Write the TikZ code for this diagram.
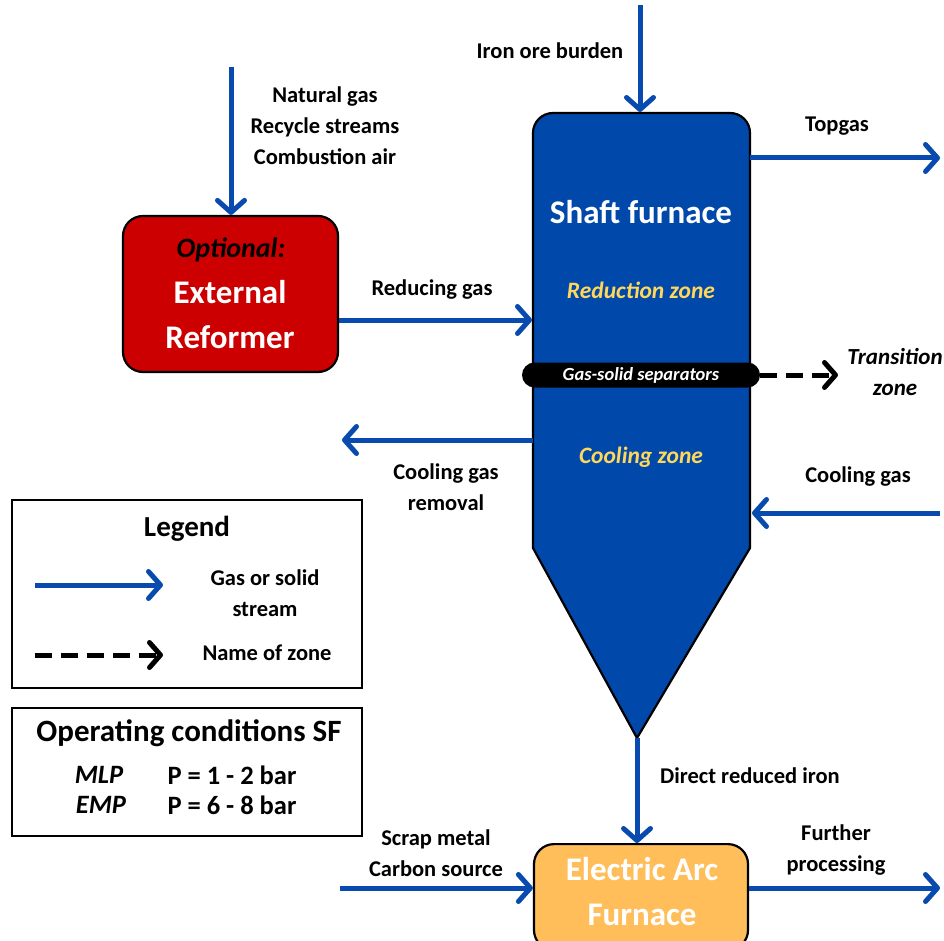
\documentclass[tikz,border=0pt]{standalone}
\usepackage{fontspec}
\setmainfont{Carlito}
\usetikzlibrary{arrows.meta}
\definecolor{sfblue}{RGB}{0,72,170}
\definecolor{flowblue}{RGB}{8,74,174}
\definecolor{refred}{RGB}{204,0,0}
\definecolor{eaforange}{RGB}{255,190,90}
\definecolor{zoneyellow}{RGB}{255,215,90}
\begin{document}
\begin{tikzpicture}[x=1pt,y=-1pt,
  flow/.style={draw=flowblue, line width=5pt, -{Straight Barb[length=12pt,width=27pt,line cap=round,line join=round]}},
  zonearrow/.style={draw=black, line width=5pt, dash pattern=on 17pt off 9pt, -{Straight Barb[length=11pt,width=25pt,line cap=round,line join=round]}},
  lbl/.style={font=\bfseries\fontsize{22.5}{31}\selectfont, align=center, inner sep=0pt},
  ilbl/.style={font=\bfseries\itshape\fontsize{23}{31}\selectfont, align=center, inner sep=0pt},
  zonetxt/.style={font=\bfseries\itshape\fontsize{23.5}{26}\selectfont, text=zoneyellow, inner sep=0pt},
  bigwhite/.style={font=\bfseries\fontsize{33}{45}\selectfont, text=white, align=center, inner sep=0pt},
  unitbox/.style={draw=black, line width=2.2pt, rounded corners=20pt, inner sep=0pt},
  legbox/.style={draw=black, line width=2pt, inner sep=0pt},
  condtxt/.style={font=\bfseries\fontsize{26.5}{30}\selectfont, inner sep=0pt}
]
\useasboundingbox (0,0) rectangle (944,941);

% Shaft furnace body
\draw[fill=sfblue, line width=2.2pt, line join=round] (533,548) [rounded corners=20pt] -- (533,113) -- (750,113) [sharp corners] -- (750,548) -- (637,738) -- cycle;
\coordinate (sfTop) at (640,112);
\coordinate (sfTopR) at (750,158);
\coordinate (sfRedIn) at (532,320);
\coordinate (sfCoolOut) at (533,440);
\coordinate (sfCoolIn) at (752,513);
\coordinate (sfTip) at (637,738);

\node[bigwhite] (sftitle) at (641,212) {Shaft furnace};
\node[zonetxt] (redzone) at (641,290) {Reduction zone};
\node[zonetxt] (coolzone) at (641,457) {Cooling zone};

% Separator
\node[fill=black, rounded corners=12.5pt, minimum width=238pt, minimum height=25pt, inner sep=0pt,
      font=\bfseries\itshape\fontsize{18.5}{20}\selectfont, text=white] (sep) at (641,375) {Gas-solid separators};
\node[ilbl] (transition) at (895,372) {Transition\\zone};
\coordinate (sepEnd) at (838,375);
\draw[zonearrow] (sep.east) -- (sepEnd);

% Reformer
\node[unitbox, fill=refred, minimum width=215pt, minimum height=156pt] (reformer) at (230.5,294) {};
\node[font=\bfseries\itshape\fontsize{28}{32}\selectfont, inner sep=0pt] (optional) at (231,250) {Optional:};
\node[bigwhite] (reftext) at (230,315) {External\\Reformer};

% EAF
\node[unitbox, fill=eaforange, minimum width=214pt, minimum height=106pt, anchor=north] (eaf) at (641,843) {};
\node[bigwhite] (eaftext) at (642,892) {Electric Arc\\Furnace};

% Stream coordinates
\coordinate (oreSrc) at (640,5);
\coordinate (feedSrc) at (231,67);
\coordinate (topgasEnd) at (940,158);
\coordinate (coolRemEnd) at (342,440);
\coordinate (coolSrc) at (940,513);
\coordinate (scrapSrc) at (340,888);
\coordinate (furtherEnd) at (940,888);

% Streams
\draw[flow] (oreSrc) -- (sfTop);
\draw[flow] (feedSrc) -- (reformer.north -| feedSrc);
\draw[flow] (sfTopR) -- (topgasEnd);
\draw[flow] (reformer.east |- sfRedIn) -- (sfRedIn);
\draw[flow] (sfCoolOut) -- (coolRemEnd);
\draw[flow] (coolSrc) -- (sfCoolIn);
\draw[flow] (sfTip) -- (eaf.north -| sfTip);
\draw[flow] (scrapSrc) -- (eaf.west |- scrapSrc);
\draw[flow] (eaf.east |- furtherEnd) -- (furtherEnd);

% Labels
\node[lbl] (orelbl) at (550,51) {Iron ore burden};
\node[lbl] (feedlbl) at (325,126) {Natural gas\\Recycle streams\\Combustion air};
\node[lbl] (topgaslbl) at (837,126) {Topgas};
\node[lbl] (redlbl) at (432,290) {Reducing gas};
\node[lbl] (coolremlbl) at (446,487.5) {Cooling gas\\removal};
\node[lbl] (coollbl) at (858,477) {Cooling gas};
\node[lbl] (drilbl) at (750,776) {Direct reduced iron};
\node[lbl] (scraplbl) at (436,853) {Scrap metal\\Carbon source};
\node[lbl] (furtherlbl) at (836,850.5) {Further\\processing};

% Legend
\draw[legbox] (12,500) rectangle (362,688);
\node[font=\bfseries\fontsize{29}{34}\selectfont, inner sep=0pt] (legend) at (187,529) {Legend};
\coordinate (lgA1) at (35,585);
\coordinate (lgA2) at (163,585);
\draw[flow] (lgA1) -- (lgA2);
\node[lbl] (lgtxt1) at (265,593) {Gas or solid\\stream};
\coordinate (lgB1) at (35,655);
\coordinate (lgB2) at (163,655);
\draw[zonearrow] (lgB1) -- (lgB2);
\node[lbl] (lgtxt2) at (267,653) {Name of zone};

% Operating conditions
\draw[legbox] (12,708) rectangle (362,836);
\node[font=\bfseries\fontsize{31}{36}\selectfont, inner sep=0pt] (optitle) at (189,733) {Operating conditions SF};
\node[condtxt, font=\bfseries\itshape\fontsize{26.5}{30}\selectfont] (mlp) at (99,775) {MLP};
\node[condtxt] (mlpP) at (232,775) {P = 1 - 2 bar};
\node[condtxt, font=\bfseries\itshape\fontsize{26.5}{30}\selectfont] (emp) at (101,805) {EMP};
\node[condtxt] (empP) at (232,805) {P = 6 - 8 bar};
\end{tikzpicture}
\end{document}
